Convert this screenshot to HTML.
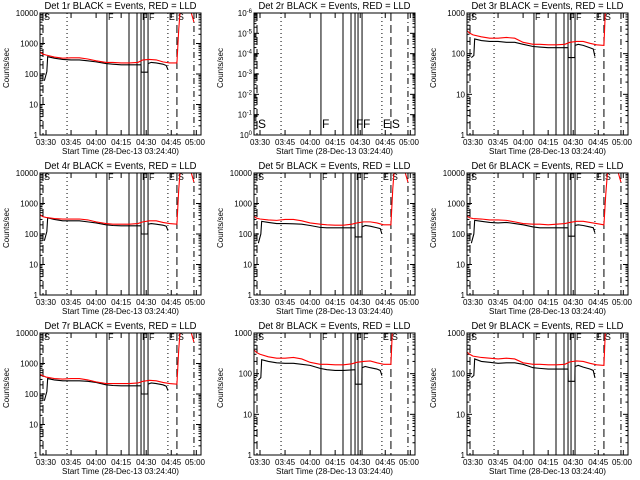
<!DOCTYPE html>
<html><head><meta charset="utf-8"><style>
html,body{margin:0;padding:0;background:#fff;}
svg{display:block;font-family:"Liberation Sans",sans-serif;}
</style></head><body>
<svg id="chart" width="640" height="480" viewBox="0 0 640 480" xmlns="http://www.w3.org/2000/svg">
<rect width="640" height="480" fill="#fff"/>
</svg>
<script>
const xTickLabels = ["03:30","03:45","04:00","04:15","04:30","04:45","05:00"];
const xTickMinutes = [0,15,30,45,60,75,90];
const blackTimes = [-1,0.5,1,5,10,15,20,25,30,36,40,45,50,56.9,57,61,61.1,63,66,70,72,73];
const redTimes = [-6,-4,-2,0,5,10,15,20,25,30,36,40,45,50,55,58,62,66,70,74,78.4,79.5,80.5,85,87,88.6];
const markerTimes = [-1.8,12.6,36.5,49.7,54.5,56.9,58.7,61.1,73,78.4,88.6];
const markerStyles = ["dash","dot","solid","solid","solid","solid","solid","solid","dot","dash","dashdot"];
const flagTimes = [-1.8,36.5,56.9,61.1,73,78.4];
const flagLetters = ["S","F","F","F","E","S"];
const panelNames = ["1r","2r","3r","4r","5r","6r","7r","8r","9r"];
const panelDecades = [4,6,3,4,4,4,4,3,3];
const black1 = [60,120,370,330,300,290,290,270,250,220,210,200,200,200,115,115,220,240,230,210,190,140];
const red1 = [900,550,450,420,360,330,340,340,310,270,240,240,230,230,240,290,300,290,250,230,230,3000,15000,20000,10000,5000];
const black3 = [80,90,230,210,200,200,190,190,170,150,145,140,140,140,80,80,160,170,160,140,130,85];
const red3 = [650,380,320,290,260,240,240,250,240,190,170,170,165,165,170,190,200,200,180,165,160,2000,5000,5000,5000,5000];
const black4 = [60,120,340,300,270,270,270,250,230,200,190,185,185,185,100,100,210,220,210,195,180,130];
const red4 = [700,450,370,350,320,310,310,310,290,250,220,210,210,210,220,250,270,270,240,220,210,3000,15000,20000,10000,5000];
const black5 = [50,100,260,240,220,220,215,210,190,165,160,160,160,160,80,80,170,190,180,160,150,100];
const red5 = [600,400,330,310,290,280,300,300,270,230,210,200,195,195,210,230,250,250,230,200,200,3000,15000,20000,10000,5000];
const black6 = [50,100,280,260,240,230,240,220,200,170,160,160,160,160,85,85,190,200,190,170,160,110];
const red6 = [500,400,340,320,310,290,290,280,250,220,210,210,200,210,220,240,260,260,240,220,200,2000,10000,20000,10000,5000];
const black7 = [60,120,320,290,270,270,270,260,240,200,190,185,185,185,100,100,210,230,220,200,180,130];
const red7 = [800,450,400,360,320,310,320,320,290,250,220,220,220,220,230,260,280,270,240,220,210,3000,15000,20000,10000,5000];
const black8 = [70,80,220,200,185,180,180,170,160,135,125,120,120,125,55,55,140,150,140,130,120,90];
const red8 = [600,400,330,300,260,240,240,250,230,190,170,170,165,165,175,190,200,205,185,170,170,2000,5000,5000,5000,5000];
const black9 = [80,90,230,200,190,180,185,185,170,140,135,130,130,130,65,65,150,160,145,130,120,80];
const red9 = [550,350,300,270,250,240,230,240,230,185,170,170,165,165,170,195,205,200,180,165,160,2000,5000,5000,5000,5000];
const blackSeries = [black1,null,black3,black4,black5,black6,black7,black8,black9];
const redSeries = [red1,null,red3,red4,red5,red6,red7,red8,red9];

const NS="http://www.w3.org/2000/svg";
const svg=document.getElementById('chart');
const colLeft=[40,254,467], rowTop=[13,173,333], W=161, H=122;
function mk(tag,attrs,parent){const e=document.createElementNS(NS,tag);for(const k in attrs)e.setAttribute(k,attrs[k]);parent.appendChild(e);return e;}

for(let p=0;p<9;p++){
  const L=colLeft[p%3], T=rowTop[Math.floor(p/3)];
  const nd=panelDecades[p];
  const xs=m=>L+6+m*1.67;
  const ys=v=>T+H-Math.log10(v)/nd*H;
  const g=mk('g',{},svg);
  
  
  const cp=mk('clipPath',{id:'cp'+p},g);
  mk('rect',{x:L,y:T,width:W,height:H},cp);
  const t=mk('text',{x:L+W/2,y:T-4,'text-anchor':'middle','font-size':10,textLength:152,lengthAdjust:'spacingAndGlyphs'},g);
  t.textContent='Det '+panelNames[p]+' BLACK = Events, RED = LLD';
  
  
  const yx=L-31;
  const yt=mk('text',{x:yx,y:T+55,'text-anchor':'middle','font-size':8,transform:`rotate(-90 ${yx} ${T+55})`},g);
  yt.textContent='Counts/sec';
  
  
  const xt=mk('text',{x:L+W/2,y:T+141,'text-anchor':'middle','font-size':8,textLength:117,lengthAdjust:'spacingAndGlyphs'},g);
  xt.textContent='Start Time (28-Dec-13 03:24:40)';
  
  
  for(let d=0;d<=nd;d++){
    const y=T+H-d/nd*H;
    mk('line',{x1:L,x2:L+5,y1:y,y2:y,stroke:'#000'},g);
    mk('line',{x1:L+W-5,x2:L+W,y1:y,y2:y,stroke:'#000'},g);
    if(d<nd){for(let k=2;k<10;k++){const yy=T+H-(d+Math.log10(k))/nd*H;
      mk('line',{x1:L,x2:L+2.5,y1:yy,y2:yy,stroke:'#000'},g);
      mk('line',{x1:L+W-2.5,x2:L+W,y1:yy,y2:yy,stroke:'#000'},g);}}
    const lt=mk('text',{x:L-2,y:y+3,'text-anchor':'end','font-size':8},g);
    
    
    if(p===1){lt.textContent='10';const s=mk('tspan',{dy:-3,'font-size':6},lt);s.textContent=(d===0?'0':'-'+d);}
    else lt.textContent=String(Math.pow(10,d));
  }
  for(let i=0;i<xTickMinutes.length;i++){
    const x=xs(xTickMinutes[i]);
    if(x<=L+W){mk('line',{x1:x,x2:x,y1:T+H,y2:T+H-5,stroke:'#000'},g);mk('line',{x1:x,x2:x,y1:T,y2:T+5,stroke:'#000'},g);}
    const xl=mk('text',{x:Math.min(x,L+W-6),y:T+132,'text-anchor':'middle','font-size':8},g);
    xl.textContent=xTickLabels[i];
    
    
  }
  const dashes={dash:'8,4',dot:'1,3',solid:'',dashdot:'6,3,1,3'};
  for(let i=0;i<markerTimes.length;i++){
    const x=xs(markerTimes[i]);
    const ln=mk('line',{x1:x,x2:x,y1:T,y2:T+H,stroke:'#000','stroke-width':1},g);
    if(dashes[markerStyles[i]])ln.setAttribute('stroke-dasharray',dashes[markerStyles[i]]);
    
    
  }
  for(let i=0;i<flagTimes.length;i++){
    const big=(p===1);
    const fy=big?T+H-7:T+7;
    const ft=mk('text',{x:xs(flagTimes[i])+1,y:fy,'font-size':big?12:9},g);
    ft.textContent=flagLetters[i];
    
    
  }
  const series=[[blackSeries[p],blackTimes,'#000'],[redSeries[p],redTimes,'#ff0000']];
  for(const [vals,tms,col] of series){
    if(!vals)continue;
    let d='';
    for(let i=0;i<vals.length;i++){
      const x=xs(tms[i]), y=ys(vals[i]);
      d+=(i===0?'M':'L')+x+','+y;
    }
    const path=mk('path',{d:d,fill:'none',stroke:col,'stroke-width':1.1,'clip-path':`url(#cp${p})`},g);
    
    
  }
  const fr=mk('rect',{x:L,y:T,width:W,height:H,fill:'none',stroke:'#000','stroke-width':1},g);
  
  
}
</script>
</body></html>
